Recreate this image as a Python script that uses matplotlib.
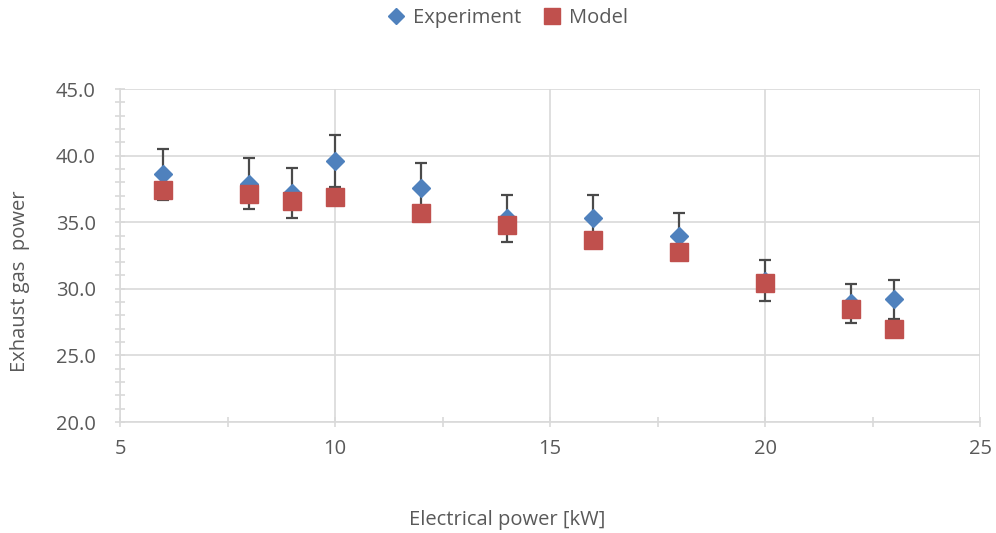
import matplotlib
matplotlib.use("Agg")
import matplotlib.pyplot as plt
from matplotlib.ticker import MultipleLocator, FormatStrFormatter

power_kw = [6, 8, 9, 10, 12, 14, 16, 18, 20, 22, 23]
experiment = [38.6, 37.9, 37.2, 39.6, 37.6, 35.3, 35.3, 34.0, 30.6, 28.9, 29.2]
model = [37.4, 37.1, 36.6, 36.9, 35.7, 34.8, 33.7, 32.8, 30.4, 28.5, 27.0]
err_frac = 0.05
exp_err = [v * err_frac for v in experiment]

plt.rcParams['font.family'] = ['Open Sans', 'DejaVu Sans']
txt = '#595959'
grid_c = '#D9D9D9'
fs = 14.5

fig = plt.figure(figsize=(9.96, 5.33), dpi=100)
ax = fig.add_axes([120/996, 1-422/533, 860/996, 333/533])

ax.errorbar(power_kw, experiment, yerr=exp_err, fmt='none', ecolor='#4a4a4a',
            elinewidth=1.6, capsize=4.2, capthick=1.6, zorder=3)
ax.plot(power_kw, experiment, linestyle='none', marker='D', markersize=9.5,
        color='#4F81BD', label='Experiment', zorder=4)
ax.plot(power_kw, model, linestyle='none', marker='s', markersize=12.5,
        color='#C0504D', label='Model', zorder=5)

ax.set_xlim(5, 25)
ax.set_ylim(20, 45)
ax.xaxis.set_major_locator(MultipleLocator(5))
ax.xaxis.set_minor_locator(MultipleLocator(2.5))
ax.yaxis.set_major_locator(MultipleLocator(5))
ax.yaxis.set_minor_locator(MultipleLocator(1))
ax.yaxis.set_major_formatter(FormatStrFormatter('%.1f'))
ax.grid(True, which='major', color=grid_c, linewidth=1.2, zorder=0)
ax.set_axisbelow(True)
for s in ['top', 'right']:
    ax.spines[s].set_visible(False)
for s in ['left', 'bottom']:
    ax.spines[s].set_color(grid_c)
    ax.spines[s].set_linewidth(1.2)
ax.tick_params(which='both', direction='inout', length=7, color=grid_c, width=1.2,
               labelcolor=txt, labelsize=fs)
ax.tick_params(axis='x', pad=9)
ax.tick_params(axis='y', pad=14)

fig.text(20/996, 252/533, 'Exhaust gas  power', rotation=90, ha='center', va='center',
         color=txt, fontsize=fs)
fig.text(507/996, 1-520/533, 'Electrical power [kW]', ha='center', va='center',
         color=txt, fontsize=fs)

leg = fig.legend(loc='center', bbox_to_anchor=(0.51, 1-18/533), ncol=2, frameon=False,
                 fontsize=fs, handlelength=0.8, handletextpad=0.45, columnspacing=1.1,
                 labelcolor=txt, borderaxespad=0, markerscale=0.9)

fig.savefig('out.png', dpi=100)
